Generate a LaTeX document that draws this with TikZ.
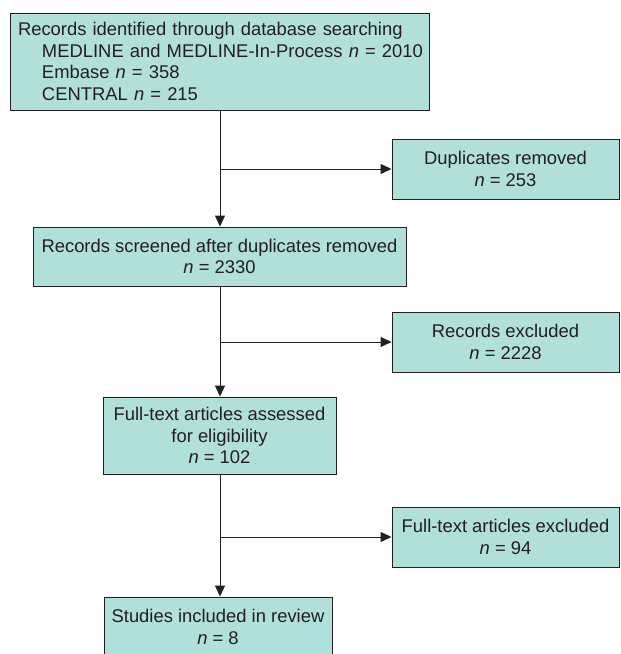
\documentclass[tikz,border=0pt]{standalone}
\usepackage{fontspec}
\setmainfont{Liberation Sans}
\usetikzlibrary{arrows.meta}
\definecolor{boxfill}{HTML}{B1DFDA}
\definecolor{ink}{HTML}{231F20}
\newcommand{\nn}{\textit{n}~=~}
\begin{document}
\begin{tikzpicture}[x=1pt,y=-1pt,
  flowbox/.style={draw=ink, line width=0.9pt, fill=boxfill, text=ink, inner sep=0pt,
    font=\fontsize{18.4}{21.5}\selectfont, align=center},
  flowline/.style={draw=ink, line width=0.9pt},
  flowarrow/.style={flowline, -{Triangle[length=11pt,width=10pt]}}]
\useasboundingbox (0,0) rectangle (621,654);
\node[flowbox, minimum width=419pt, minimum height=97pt, text width=403pt, align=left] (b1) at (219.5,61.5)
  {Records identified through database searching\\
   \mbox{\hspace*{24pt}MEDLINE and MEDLINE-In-Process \nn2010}\\
   \mbox{\hspace*{24pt}Embase \nn358}\\
   \mbox{\hspace*{24pt}CENTRAL \nn215}};
\node[flowbox, minimum width=227pt, minimum height=60pt] (b2) at (505.5,169) {Duplicates removed\\ \nn253};
\node[flowbox, minimum width=373pt, minimum height=59pt] (b3) at (219.5,256.5) {Records screened after duplicates removed\\ \nn2330};
\node[flowbox, minimum width=227pt, minimum height=60pt] (b4) at (505.5,342) {Records excluded\\ \nn2228};
\node[flowbox, minimum width=233pt, minimum height=77pt] (b5) at (219.5,435.5) {Full-text articles assessed\\ for eligibility\\ \nn102};
\node[flowbox, minimum width=227pt, minimum height=60pt] (b6) at (505.5,537) {Full-text articles excluded\\ \nn94};
\node[flowbox, minimum width=228pt, minimum height=60pt] (b7) at (218,627) {Studies included in review\\ \nn8};
\coordinate (j1) at (220,169);
\coordinate (j2) at (220,342);
\coordinate (j3) at (220,537);
\draw[flowarrow] (b1.south -| j1) -- (b3.north -| j1);
\draw[flowarrow] (j1) -- (b2.west);
\draw[flowarrow] (b3.south -| j2) -- (b5.north -| j2);
\draw[flowarrow] (j2) -- (b4.west);
\draw[flowarrow] (b5.south -| j3) -- (b7.north -| j3);
\draw[flowarrow] (j3) -- (b6.west);
\end{tikzpicture}
\end{document}
